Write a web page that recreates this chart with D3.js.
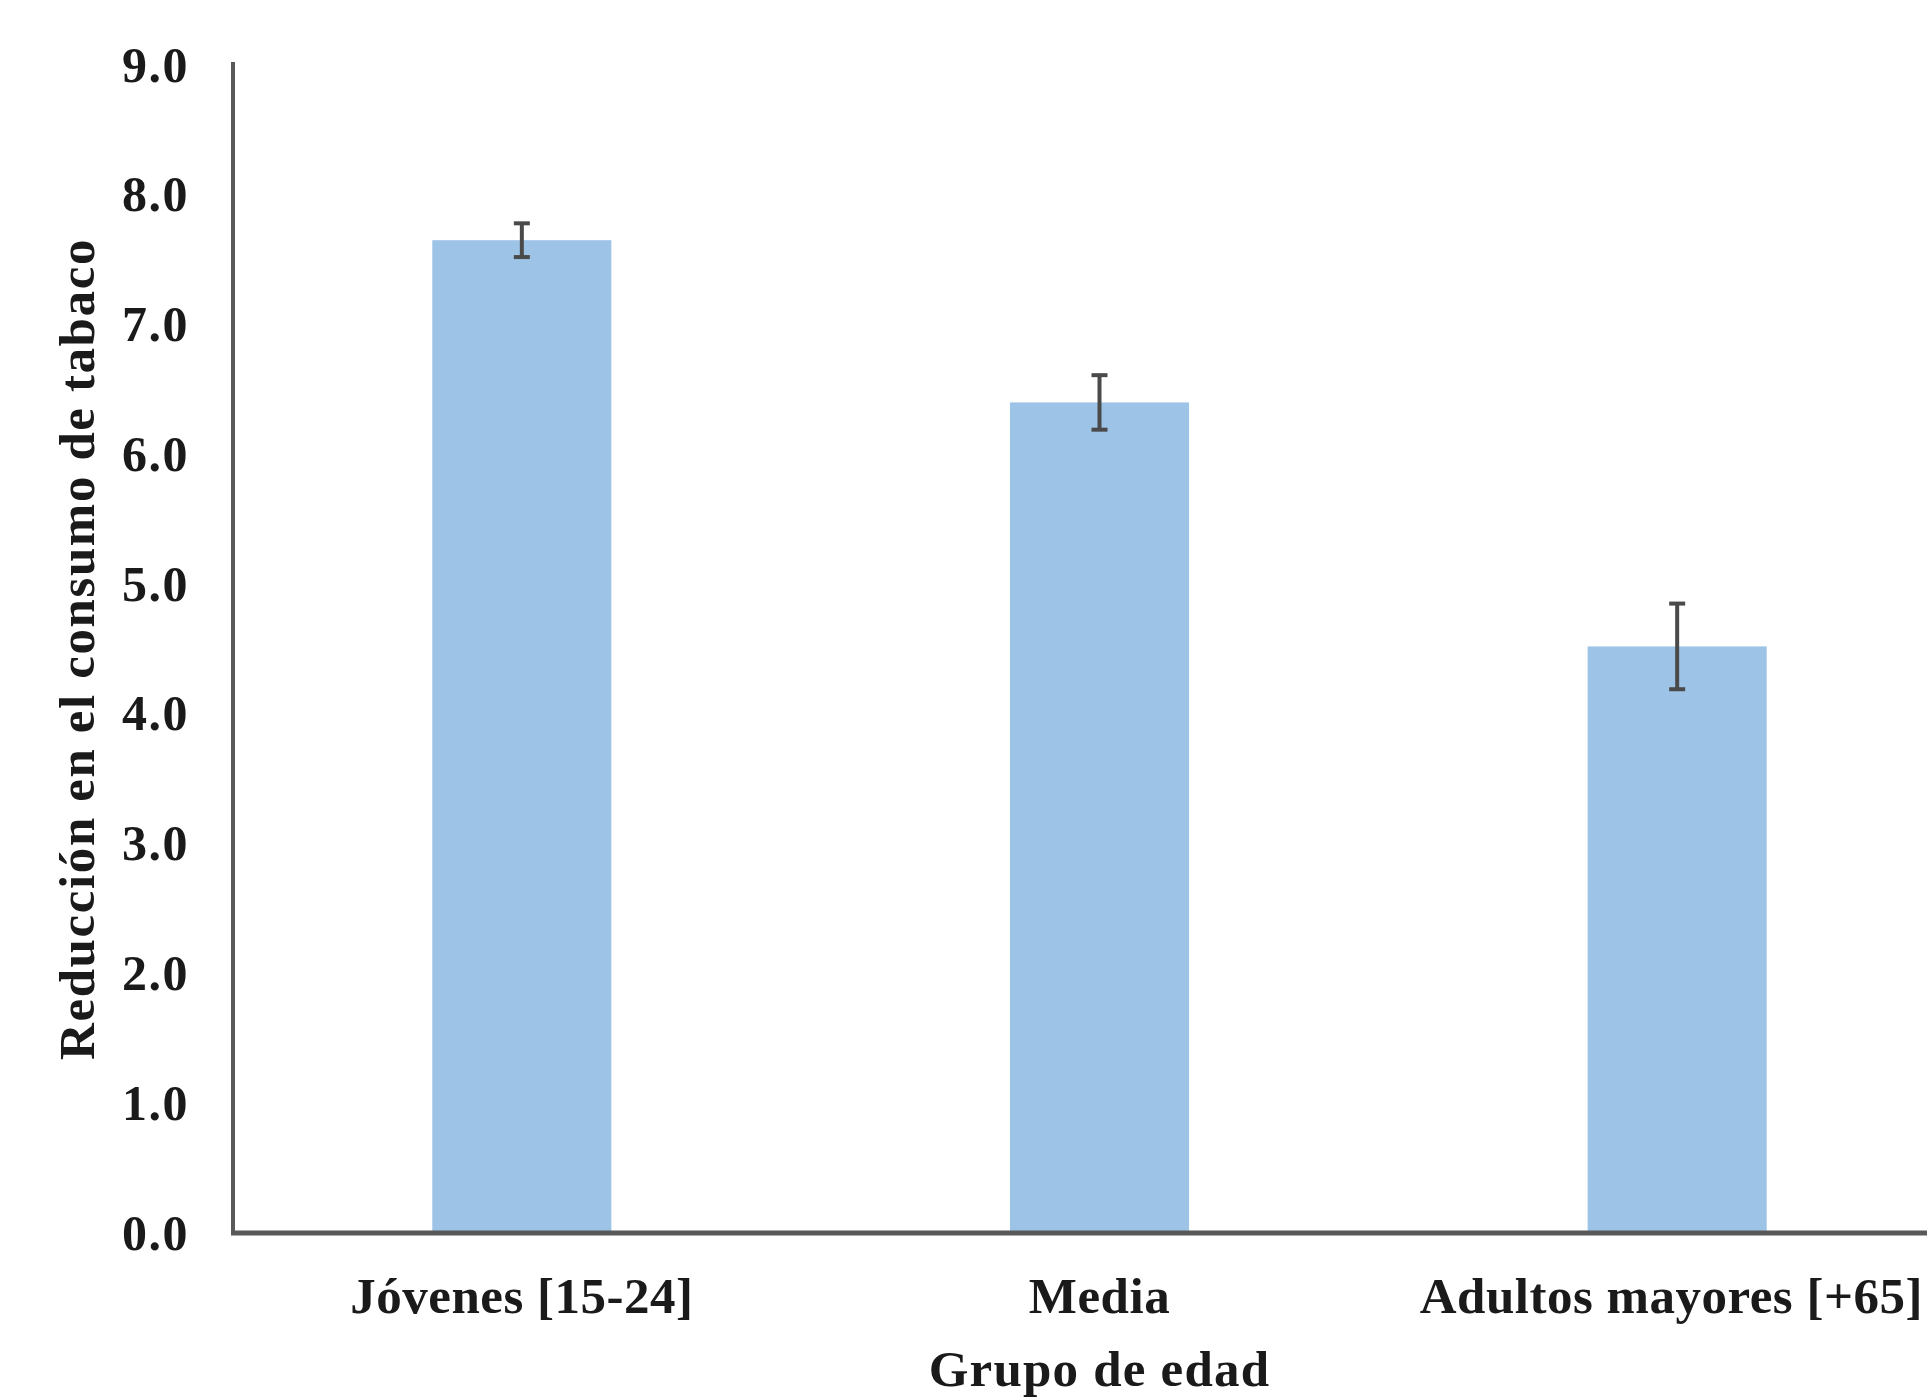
<!DOCTYPE html>
<html>
<head>
<meta charset="utf-8">
<script src="https://cdn.jsdelivr.net/npm/d3@7"></script>
<style>
  html, body { margin: 0; padding: 0; background: #ffffff; }
  svg { display: block; }
</style>
</head>
<body>
<svg id="chart" width="1927" height="1400"></svg>
<script>
const categories = ["Jóvenes [15-24]", "Media", "Adultos mayores [+65]"];
const values = [7.65, 6.40, 4.52];
const errors = [0.13, 0.21, 0.33];
const yTicks = [0, 1, 2, 3, 4, 5, 6, 7, 8, 9];
const yTitle = "Reducción en el consumo de tabaco";
const xTitle = "Grupo de edad";

(function () {
const svg = d3.select("#chart");
const W = 1927, H = 1400;
const mLeft = 233, mRight = 1966, mTop = 65, mBottom = 1233;
const FONT = "'Liberation Serif', 'DejaVu Serif', serif";

const x = d3.scaleBand().domain(categories).range([mLeft, mRight]).paddingInner(0.69).paddingOuter(0.345);
const y = d3.scaleLinear().domain([0, 9]).range([mBottom, mTop]);

// bars
svg.append("g").selectAll("rect").data(values).join("rect")
  .attr("x", (d, i) => x(categories[i]))
  .attr("y", d => y(d))
  .attr("width", x.bandwidth())
  .attr("height", d => y(0) - y(d))
  .attr("fill", "#9dc3e6");

// error bars
const eg = svg.append("g").attr("stroke", "#4a4a4a").attr("stroke-width", 4);
values.forEach((v, i) => {
  const cx = x(categories[i]) + x.bandwidth() / 2;
  const hi = y(v + errors[i]), lo = y(v - errors[i]);
  eg.append("line").attr("x1", cx).attr("x2", cx).attr("y1", hi).attr("y2", lo);
  eg.append("line").attr("x1", cx - 8).attr("x2", cx + 8).attr("y1", hi).attr("y2", hi);
  eg.append("line").attr("x1", cx - 8).attr("x2", cx + 8).attr("y1", lo).attr("y2", lo);
});

// y axis
const yAxis = d3.axisLeft(y).tickValues(yTicks).tickFormat(d3.format(".1f")).tickSize(0).tickPadding(44);
const gy = svg.append("g").attr("transform", `translate(${mLeft},0)`).call(yAxis);
gy.select(".domain").attr("stroke", "#595959").attr("stroke-width", 4).attr("d", `M0,${mTop - 3}V${mBottom}`);
gy.selectAll("text").attr("font-family", FONT).attr("font-weight", "bold").attr("font-size", 50)
  .attr("letter-spacing", 1.5).attr("fill", "#1a1a1a");

// x axis
const xAxis = d3.axisBottom(x).tickSize(0).tickPadding(60);
const gx = svg.append("g").attr("transform", `translate(0,${mBottom})`).call(xAxis);
gx.select(".domain").attr("stroke", "#595959").attr("stroke-width", 5).attr("d", `M${mLeft - 2},0H${W + 50}`);
gx.selectAll("text").attr("font-family", FONT).attr("font-weight", "bold").attr("font-size", 51)
  .attr("letter-spacing", 0.5).attr("fill", "#1a1a1a").attr("dy", "0");
gx.selectAll("text").attr("y", 80);
// keep the last label inside the canvas
gx.selectAll(".tick text").each(function () {
  const bb = this.getBBox();
  const t = d3.select(this.parentNode).attr("transform");
  const tx = +t.match(/translate\(([-\d.]+)/)[1];
  const overflow = tx + bb.x + bb.width - (W - 4);
  if (overflow > 0) d3.select(this).attr("x", -overflow);
});

// titles
svg.append("text")
  .attr("x", x("Media") + x.bandwidth() / 2).attr("y", 1386)
  .attr("text-anchor", "middle")
  .attr("font-family", FONT).attr("font-weight", "bold").attr("font-size", 51)
  .attr("letter-spacing", 1.2).attr("fill", "#1a1a1a")
  .text(xTitle);

svg.append("text")
  .attr("transform", `translate(94,${(mTop + mBottom) / 2}) rotate(-90)`)
  .attr("text-anchor", "middle")
  .attr("font-family", FONT).attr("font-weight", "bold").attr("font-size", 51)
  .attr("letter-spacing", 1.6).attr("fill", "#1a1a1a")
  .text(yTitle);
})();
</script>
</body>
</html>
